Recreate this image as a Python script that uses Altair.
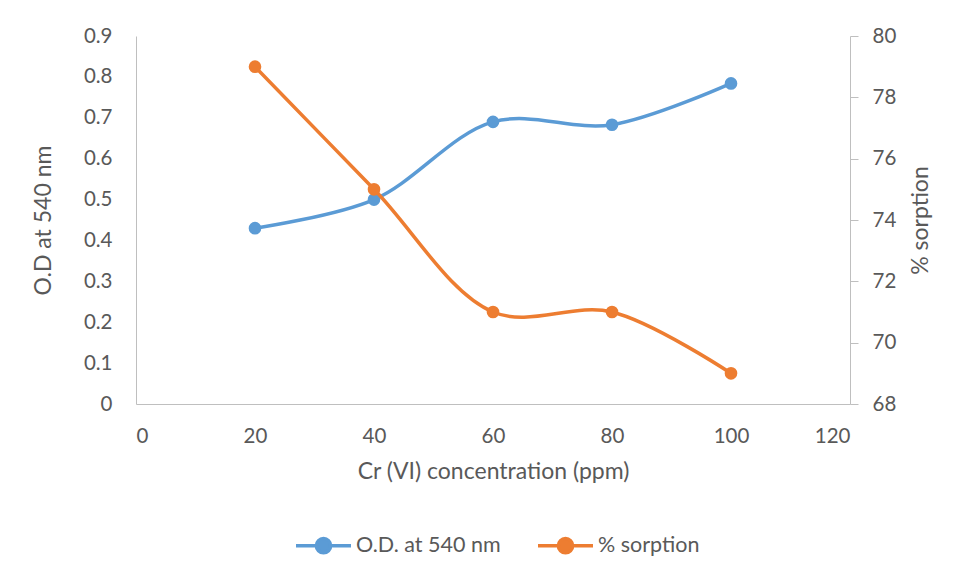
import altair as alt
import pandas as pd

conc = [20, 40, 60, 80, 100]
od = [0.43, 0.50, 0.69, 0.683, 0.784]
sorption = [79, 75, 71, 71, 69]
series_names = ["O.D. at 540 nm", "% sorption"]
colors = ["#5B9BD5", "#ED7D31"]

df = pd.DataFrame({"conc": conc, "od": od, "sorption": sorption})

FONT = "Lato"
TXT = "#595959"
AX = "#BFBFBF"

legend_path = ("M-1,0L-0.26,0M0.26,0L1,0"
               "M-0.26,0A0.26,0.26 0 1 1 0.26,0A0.26,0.26 0 1 1 -0.26,0Z")

color_scale = alt.Scale(domain=series_names, range=colors)
legend = alt.Legend(orient="none", direction="horizontal", title=None,
                    legendX=158, legendY=480, symbolType=legend_path,
                    symbolSize=3025, symbolStrokeWidth=3.5,
                    labelFontSize=21.5, labelFont=FONT, labelColor=TXT,
                    labelOffset=3, columnPadding=30)

x_enc = alt.X("conc:Q", scale=alt.Scale(domain=[0, 120], nice=False),
              axis=alt.Axis(values=[0, 20, 40, 60, 80, 100, 120], title="Cr (VI) concentration (ppm)",
                            grid=False, ticks=False, domainColor=AX, labelPadding=22,
                            titlePadding=14))

base_b = alt.Chart(df).transform_calculate(series="'%s'" % series_names[0])
base_o = alt.Chart(df).transform_calculate(series="'%s'" % series_names[1])

col = alt.Color("series:N", scale=color_scale, legend=legend)

blue_line = base_b.mark_line(interpolate="catmull-rom", strokeWidth=3.5).encode(
    x=x_enc,
    y=alt.Y("od:Q", scale=alt.Scale(domain=[0, 0.9], nice=False),
            axis=alt.Axis(values=[0, 0.1, 0.2, 0.3, 0.4, 0.5, 0.6, 0.7, 0.8, 0.9], format=".1~f",
                          title="O.D at 540 nm", grid=False, ticks=False, domainColor=AX,
                          labelPadding=24, titlePadding=28, orient="left")),
    color=col,
)
blue_pts = base_b.mark_circle(size=160, opacity=1).encode(
    x="conc:Q", y="od:Q", color=col)

orange_line = base_o.mark_line(interpolate="catmull-rom", strokeWidth=3.5).encode(
    x="conc:Q",
    y=alt.Y("sorption:Q", scale=alt.Scale(domain=[68, 80], nice=False),
            axis=alt.Axis(values=[68, 70, 72, 74, 76, 78, 80], title="% sorption", grid=False,
                          ticks=True, tickSize=8, tickColor=AX, domainColor=AX,
                          labelPadding=14, titlePadding=14, titleAngle=270,
                          titleBaseline="top", orient="right")),
    color=col,
)
orange_pts = base_o.mark_circle(size=160, opacity=1).encode(
    x="conc:Q", y="sorption:Q", color=col)

left = alt.layer(blue_line, blue_pts)
right = alt.layer(orange_line, orange_pts)

chart = alt.layer(left, right).resolve_scale(y="independent").properties(
    width=714, height=368,
    autosize=alt.AutoSizeParams(type="none"),
    padding={"left": 136, "top": 36, "right": 106, "bottom": 173},
    background="white",
).configure_view(stroke=None).configure_axis(
    labelFont=FONT, labelFontSize=20.5, labelColor=TXT,
    titleFont=FONT, titleFontSize=23, titleColor=TXT, titleFontWeight="normal",
    domainWidth=1,
)

chart.save("out.html", embed_options={"renderer": "svg", "actions": False})
